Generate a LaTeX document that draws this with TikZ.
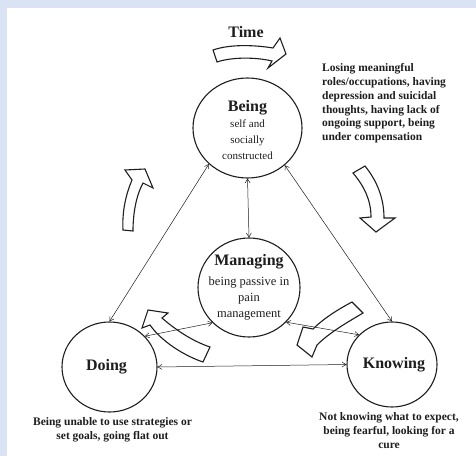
\documentclass[tikz,border=0pt]{standalone}
\usepackage{fontspec}
\setmainfont{Liberation Serif}
\usetikzlibrary{arrows.meta,positioning,shapes.geometric}
\definecolor{cFrame}{HTML}{DAE3F3}
\definecolor{cInk}{HTML}{1E1E1E}

\begin{document}
\begin{tikzpicture}[
  x=1pt,y=1pt,
  ring/.style={draw=cInk,ellipse,line width=1.1pt,inner sep=0pt},
  head/.style={font=\fontsize{16}{16}\selectfont\bfseries,text=cInk},
  note/.style={font=\fontsize{11.5}{13.8}\selectfont\bfseries,text=cInk,inner sep=0pt},
  link/.style={{Straight Barb[length=4pt,width=5pt]}-{Straight Barb[length=4pt,width=5pt]},
               line width=0.5pt,cInk},
  turn/.style={draw=cInk,line width=1.1pt,line join=miter}
]
\useasboundingbox (0,0) rectangle (476,456);
\fill[cFrame] (0,0) rectangle (476,456);
\fill[white] (7,0) rectangle (476,448);

% the four states
\node[ring,minimum width=109pt,minimum height=100pt] (being) at (247.5,328) {};
\node[ring,minimum width=102pt,minimum height=99pt] (managing) at (249,168.5) {};
\node[ring,minimum width=95pt,minimum height=90pt] (doing) at (109.5,89) {};
\node[ring,minimum width=90pt,minimum height=85pt] (knowing) at (392,91.5) {};

\node[align=center,text=cInk,font=\fontsize{11}{16}\selectfont] (beingtext) at ([yshift=-2pt]being.center)
     {{\fontsize{16}{16}\selectfont\bfseries Being}\\self and\\socially\\constructed};
\node[align=center,text=cInk,font=\fontsize{12.5}{16}\selectfont] (managingtext) at (managing)
     {{\fontsize{16}{16}\selectfont\bfseries Managing}\\[4pt]being passive in\\pain\\management};
\node[head] (doingtext) at ([xshift=-3pt]doing.center) {Doing};
\node[head] (knowingtext) at ([xshift=2pt]knowing.center) {Knowing};

% notes
\node[head] (time) at (246,424) {Time};
\node[note,align=left,anchor=north west] (loss) at (322,392.5)
     {Losing meaningful\\roles/occupations, having\\depression and suicidal\\thoughts, having lack of\\ongoing support, being\\under compensation};
\node[note,align=center,below=5pt of doing,xshift=3pt] (unable)
     {Being unable to use strategies or\\set goals, going flat out};
\node[note,align=center,below=5pt of knowing,xshift=-3pt] (fearful)
     {Not knowing what to expect,\\being fearful, looking for a\\cure};

% links
\draw[link] (being.south) -- (managing.north);
\draw[link] (being.223) -- (doing.north);
\draw[link] (being.315) -- (knowing.north);
\draw[link] (doing.east) -- (knowing.west);
\draw[link] (managing.224) -- (doing.41);
\draw[link] (managing.317) -- (knowing.138);

% turning arrows
\draw[turn] (213,406) .. controls (230,412) and (255,411) .. (273,408) -- (280,418) -- (286,402)
  -- (268,388) -- (272,395) .. controls (255,399) and (232,399) .. (217,394) -- cycle;
\draw[turn] (365,290) .. controls (377,275) and (384,258) .. (384,238) -- (395,238) -- (376,224)
  -- (360,238) -- (371,239) .. controls (371,256) and (364,270) .. (353,283) -- cycle;
\draw[turn] (352,154) .. controls (335,145) and (322,136) .. (313,127) -- (303,129) -- (297,111)
  -- (312,99) -- (317,111) .. controls (330,124) and (348,134) .. (363,143) -- cycle;
\draw[turn] (210,109) .. controls (195,114) and (178,124) .. (162,138) -- (168,143) -- (148,146)
  -- (142,128) -- (150,131) .. controls (162,114) and (185,100) .. (203,94) -- cycle;
\draw[turn] (123,226) -- (133,225) .. controls (133,245) and (137,262) .. (143,273) -- (153,268)
  -- (145,287) -- (125,286) -- (132,276) .. controls (126,262) and (122,245) .. (123,226) -- cycle;
\end{tikzpicture}
\end{document}
